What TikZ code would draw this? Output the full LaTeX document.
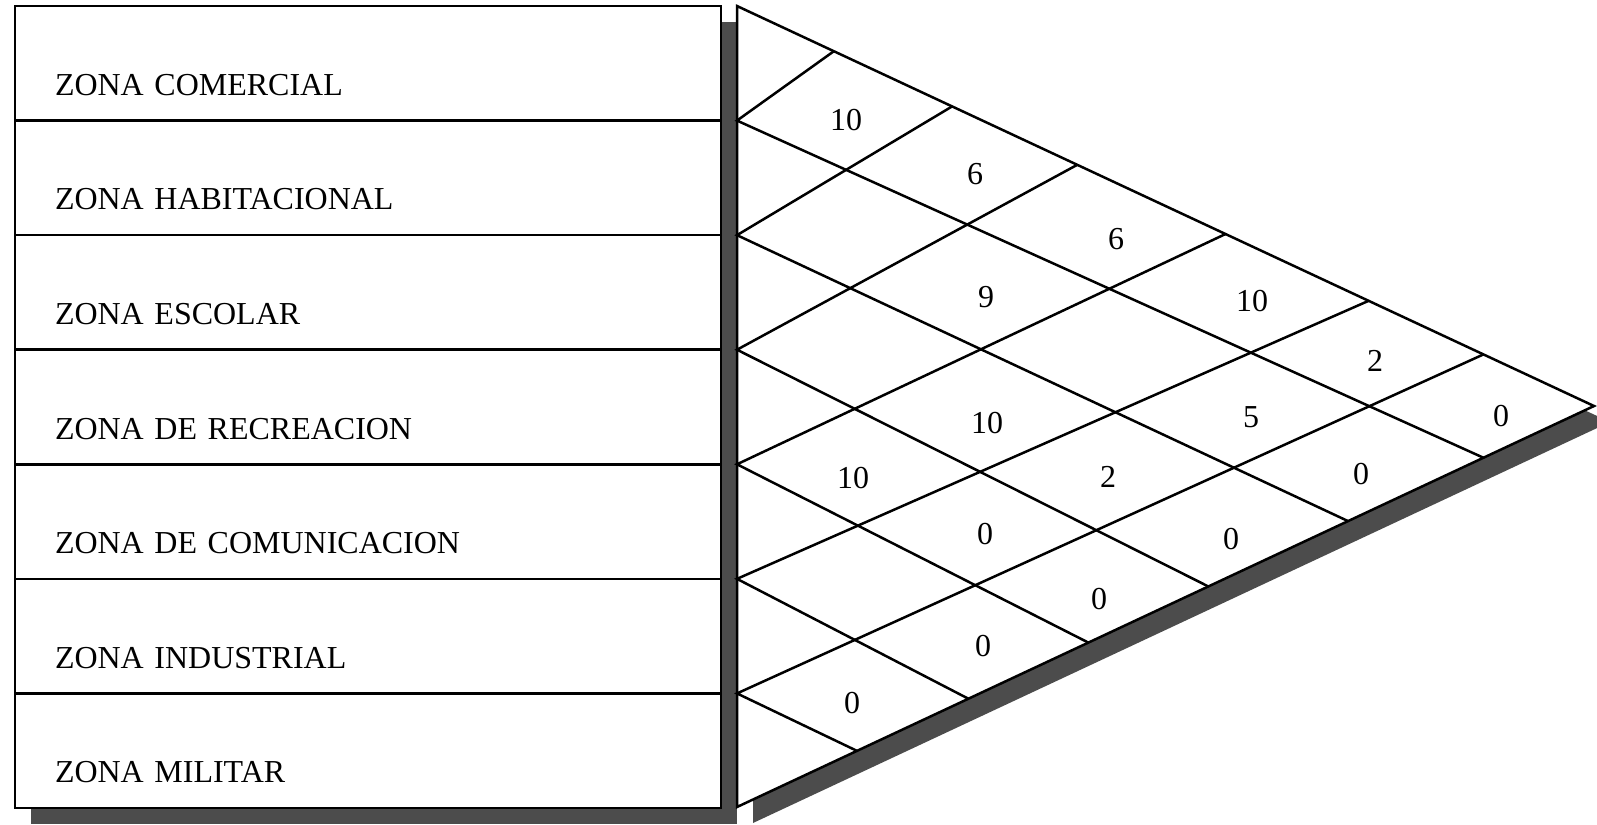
\documentclass[tikz,border=0pt]{standalone}
\usepackage{fontspec}
\setmainfont{Liberation Serif}
\usetikzlibrary{positioning,calc}
\tikzset{
  zona/.style={rectangle, draw, line width=0.25mm, fill=white, outer sep=0pt,
               minimum width=70.6mm, minimum height=11.457mm, text width=62.6mm,
               inner xsep=4mm, inner ysep=0pt, text height=6.4mm, text depth=0pt,
               align=left, font=\fontsize{9.1}{11}\selectfont},
  cifra/.style={inner sep=0pt, font=\fontsize{9.1}{11}\selectfont},
  rej/.style={line width=0.25mm},
  sombra/.style={fill=black!70}
}
\begin{document}
\begin{tikzpicture}[x=0.1mm, y=-0.1mm]
  \clip (0,0) rectangle (1597,824);
  % sombras
  \fill[sombra] (31,22) rectangle (737,824);
  \fill[sombra] (753,22) -- (1610,422) -- (753,823) -- cycle;
  % tabla de zonas
  \node[zona, anchor=north west] (r1) at (15,6) {ZONA COMERCIAL};
  \node[zona, below=0pt of r1] (r2) {ZONA HABITACIONAL};
  \node[zona, below=0pt of r2] (r3) {ZONA ESCOLAR};
  \node[zona, below=0pt of r3] (r4) {ZONA DE RECREACION};
  \node[zona, below=0pt of r4] (r5) {ZONA DE COMUNICACION};
  \node[zona, below=0pt of r5] (r6) {ZONA INDUSTRIAL};
  \node[zona, below=0pt of r6] (r7) {ZONA MILITAR};
  % matriz triangular
  \coordinate (tl) at (737,6);
  \coordinate (bl) at (737,807);
  \coordinate (apex) at (1594,406);
  \filldraw[rej, fill=white] (tl) -- (apex) -- (bl) -- cycle;
  \foreach \k/\t/\d in {1/0.113/0.871, 2/0.251/0.713, 3/0.397/0.550,
                        4/0.570/0.410, 5/0.737/0.270, 6/0.871/0.140}
    \draw[rej] ($(tl)!\t!(apex)$) -- (tl |- r\k.south) -- ($(bl)!\d!(apex)$);
  \foreach \x/\y/\v [count=\n] in {846/120/10, 975/174/6, 1116/239/6, 986/297/9,
      1252/301/10, 1375/361/2, 1501/416/0, 987/423/10, 1251/417/5, 853/478/10,
      1108/477/2, 1361/474/0, 985/534/0, 1231/539/0, 1099/599/0, 983/646/0, 852/703/0}
    \node[cifra] (n\n) at (\x,\y) {\v};
\end{tikzpicture}
\end{document}
